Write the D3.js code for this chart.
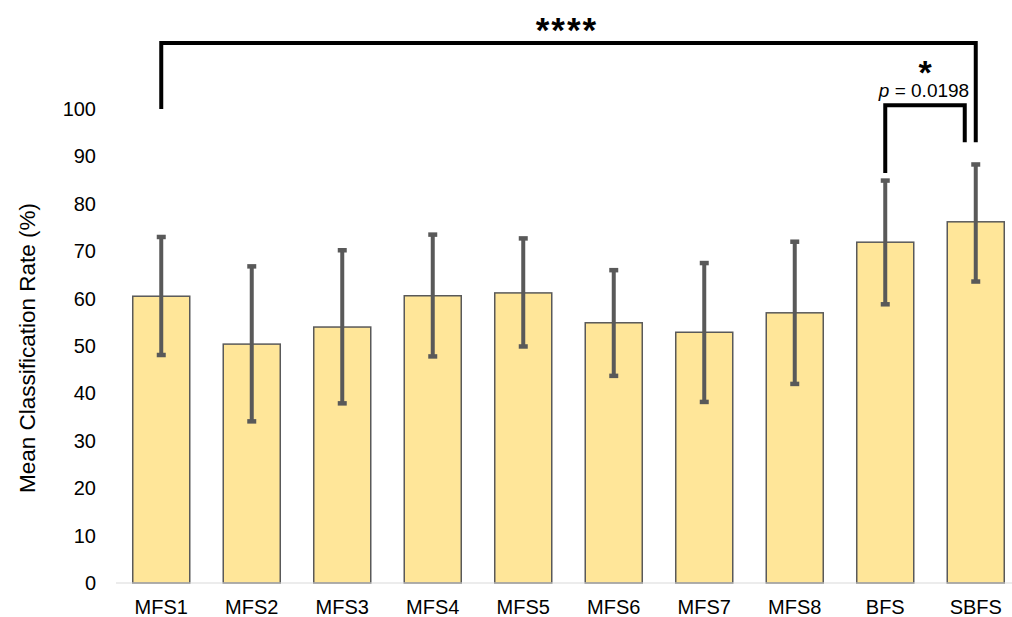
<!DOCTYPE html>
<html>
<head>
<meta charset="utf-8">
<script src="https://cdn.jsdelivr.net/npm/d3@7"></script>
<style>
  body { margin: 0; background: #fff; }
  svg { font-family: "Liberation Sans", Arial, sans-serif; }
</style>
</head>
<body>
<svg width="1012" height="617"></svg>
<script>
const categories = ["MFS1", "MFS2", "MFS3", "MFS4", "MFS5", "MFS6", "MFS7", "MFS8", "BFS", "SBFS"];
const means = [60.5, 50.4, 54.0, 60.6, 61.2, 54.9, 52.9, 57.0, 71.9, 76.2];
const errHigh = [73.0, 66.8, 70.2, 73.5, 72.7, 66.0, 67.5, 72.0, 84.9, 88.3];
const errLow = [48.1, 34.1, 37.9, 47.8, 49.9, 43.7, 38.2, 42.0, 58.8, 63.6];
const yTicks = [0, 10, 20, 30, 40, 50, 60, 70, 80, 90, 100];

// significance brackets (y in data units)
const brackets = [
  { from: "MFS1", to: "SBFS", top: 113.9, left: 100, right: 93.0, dx: [0, 0] },
  { from: "BFS", to: "SBFS", top: 100.8, left: 86.5, right: 93.0, dx: [0, -11] }
];

const svg = d3.select("svg");
const margin = { left: 116, right: -9, top: 109, bottom: 34 };
const W = 1012, H = 617;

const x = d3.scaleBand()
  .domain(categories)
  .range([margin.left, W - margin.right])
  .paddingInner(0.37)
  .paddingOuter(0.185);

const y = d3.scaleLinear()
  .domain([0, 100])
  .range([H - margin.bottom, margin.top]);

// --- Y AXIS (labels only) ---
svg.append("g")
  .selectAll("text")
  .data(yTicks)
  .enter()
  .append("text")
  .attr("x", 96)
  .attr("y", d => y(d))
  .attr("dy", "0.35em")
  .attr("text-anchor", "end")
  .attr("font-size", 20)
  .attr("fill", "#000")
  .text(d => d);

svg.append("text")
  .attr("transform", `translate(35, ${y(50) + 2}) rotate(-90)`)
  .attr("text-anchor", "middle")
  .attr("font-size", 22.5)
  .text("Mean Classification Rate (%)");

// --- BARS ---
svg.append("g")
  .selectAll("rect")
  .data(categories)
  .enter()
  .append("rect")
  .attr("x", d => x(d))
  .attr("width", x.bandwidth())
  .attr("y", (d, i) => y(means[i]))
  .attr("height", (d, i) => y(0) - y(means[i]))
  .attr("fill", "#FFE699")
  .attr("stroke", "#595959")
  .attr("stroke-width", 1.5);

// --- X AXIS line + labels ---
svg.append("line")
  .attr("x1", margin.left).attr("x2", W)
  .attr("y1", y(0)).attr("y2", y(0))
  .attr("stroke", "#d9d9d9")
  .attr("stroke-width", 1.2);

svg.append("g")
  .selectAll("text")
  .data(categories)
  .enter()
  .append("text")
  .attr("x", d => x(d) + x.bandwidth() / 2)
  .attr("y", 614)
  .attr("text-anchor", "middle")
  .attr("font-size", 20)
  .text(d => d);

// --- ERROR BARS ---
const eb = svg.append("g").attr("stroke", "#595959");
categories.forEach((c, i) => {
  const cx = x(c) + x.bandwidth() / 2;
  eb.append("line")
    .attr("x1", cx).attr("x2", cx)
    .attr("y1", y(errLow[i])).attr("y2", y(errHigh[i]))
    .attr("stroke-width", 4);
  [errLow[i], errHigh[i]].forEach(v => {
    eb.append("line")
      .attr("x1", cx - 4.5).attr("x2", cx + 4.5)
      .attr("y1", y(v)).attr("y2", y(v))
      .attr("stroke-width", 4.5);
  });
});

// --- SIGNIFICANCE BRACKETS ---
const bg = svg.append("g");
brackets.forEach(b => {
  const x1 = x(b.from) + x.bandwidth() / 2 + b.dx[0];
  const x2 = x(b.to) + x.bandwidth() / 2 + b.dx[1];
  bg.append("path")
    .attr("d", `M${x1},${y(b.left)}V${y(b.top)}H${x2}V${y(b.right)}`)
    .attr("fill", "none")
    .attr("stroke", "#000")
    .attr("stroke-width", 4)
    .attr("stroke-linejoin", "miter")
    .attr("stroke-linecap", "butt");
});

svg.append("text")
  .attr("x", 567).attr("y", 42)
  .attr("text-anchor", "middle")
  .attr("font-size", 35)
  .attr("font-weight", "bold")
  .attr("letter-spacing", 2)
  .text("****");

svg.append("text")
  .attr("x", 925).attr("y", 84)
  .attr("text-anchor", "middle")
  .attr("font-size", 34)
  .attr("font-weight", "bold")
  .text("*");

const pt = svg.append("text")
  .attr("x", 924).attr("y", 97)
  .attr("text-anchor", "middle")
  .attr("font-size", 19);
pt.append("tspan").attr("font-style", "italic").text("p");
pt.append("tspan").text(" = 0.0198");
</script>
</body>
</html>
